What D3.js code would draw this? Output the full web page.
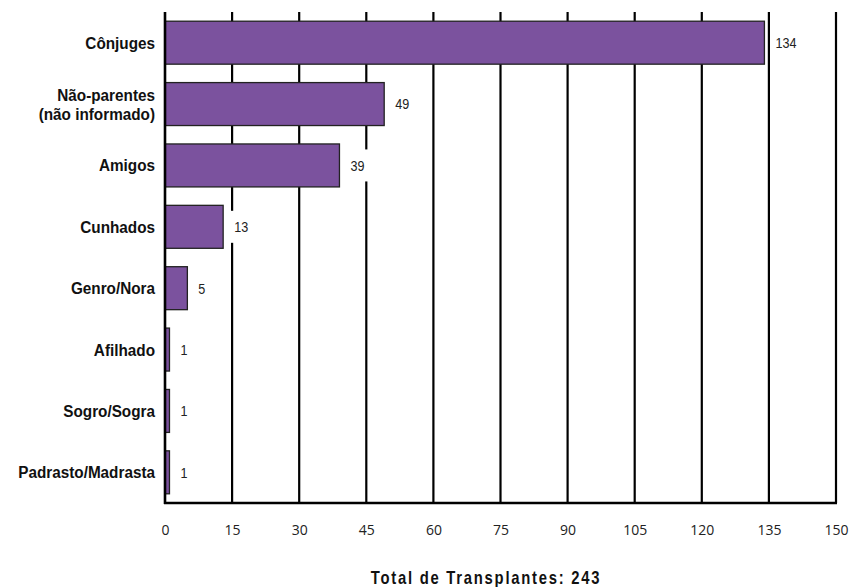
<!DOCTYPE html>
<html><head><meta charset="utf-8">
<script src="https://cdn.jsdelivr.net/npm/d3@7"></script>
<style>
body{margin:0;background:#fff;}
.cat{font-family:"Liberation Sans",Arial,sans-serif;font-weight:bold;font-size:17px;fill:#111;}
.val{font-family:"Liberation Sans",Arial,sans-serif;font-size:15px;fill:#222;}
.tick text{font-family:"Open Sans","DejaVu Sans",sans-serif;font-size:14px;fill:#222;}
.title{font-family:"Liberation Sans",Arial,sans-serif;font-weight:bold;font-size:18.5px;letter-spacing:2.2px;fill:#111;}
</style></head>
<body>
<svg id="c" width="853" height="587"></svg>
<script>
const categories = ["Cônjuges","Não-parentes\n(não informado)","Amigos","Cunhados","Genro/Nora","Afilhado","Sogro/Sogra","Padrasto/Madrasta"];
const values = [134,49,39,13,5,1,1,1];
const tickValues = [0,15,30,45,60,75,90,105,120,135,150];
const title = "Total de Transplantes: 243";

(function(){
const svg = d3.select("#c");
const mL = 165, mR = 836, mT = 12, mB = 503;
const x = d3.scaleLinear().domain([0,150]).range([mL,mR]);
const y = d3.scaleBand().domain(categories).range([mT,mB]).paddingInner(0.3).paddingOuter(0.15);

svg.append("g").selectAll("line").data(tickValues.slice(1)).join("line")
  .attr("x1",d=>x(d)).attr("x2",d=>x(d)).attr("y1",mT).attr("y2",mB)
  .attr("stroke","#000").attr("stroke-width",2.2);

const lbl = svg.append("g").selectAll("g").data(values).join("g")
  .attr("transform",(d,i)=>`translate(${x(d)+11},${y(categories[i])+y.bandwidth()/2})`);
lbl.append("rect").attr("class","bg").attr("fill","#fff");
lbl.append("text").attr("class","val").attr("dy","0.36em").attr("transform","scale(0.84,1)").text(d=>d);
lbl.each(function(){
  const g=d3.select(this), w=g.select("text").node().getComputedTextLength()*0.84;
  g.select("rect").attr("x",-5).attr("y",-16).attr("width",w+10).attr("height",32);
});

svg.append("g").selectAll("rect").data(values).join("rect")
  .attr("x",x(0)).attr("y",(d,i)=>y(categories[i]))
  .attr("width",d=>x(d)-x(0)).attr("height",y.bandwidth())
  .attr("fill","#7b529e").attr("stroke","#222").attr("stroke-width",1.3);

svg.append("line").attr("x1",x(0)).attr("x2",x(0)).attr("y1",mT).attr("y2",mB+1).attr("stroke","#000").attr("stroke-width",2.6);
svg.append("line").attr("x1",x(0)-1).attr("x2",mR+1).attr("y1",mB).attr("y2",mB).attr("stroke","#000").attr("stroke-width",2.6);

const xa = svg.append("g").attr("transform",`translate(0,${mB})`)
  .call(d3.axisBottom(x).tickValues(tickValues).tickSize(0).tickPadding(22));
xa.select(".domain").remove();

const cl = svg.append("g").selectAll("text").data(categories).join("text")
  .attr("class","cat").attr("text-anchor","end")
  .attr("transform",d=>`translate(155,${y(d)+y.bandwidth()/2}) scale(0.9,1)`);
cl.each(function(d){
  const lines=d.split("\n"), t=d3.select(this);
  const off=-(lines.length-1)*19/2;
  lines.forEach((l,i)=>t.append("tspan").attr("x",0).attr("dy",i===0?(off+6)+"px":"19px").text(l));
});

svg.append("text").attr("class","title").attr("text-anchor","middle")
  .attr("transform","translate(486,584) scale(0.8,1)").text(title);
})();
</script>
</body></html>
